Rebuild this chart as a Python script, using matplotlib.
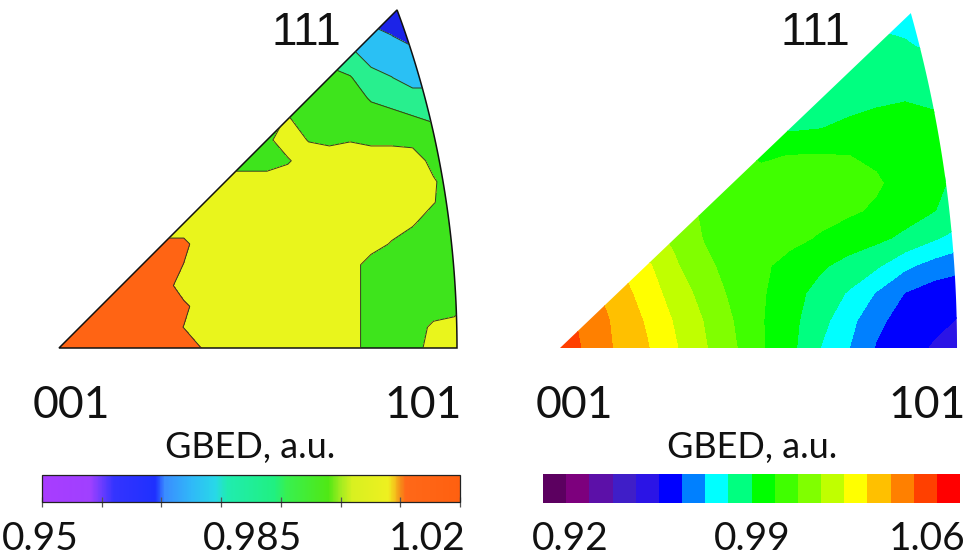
import numpy as np
import matplotlib
matplotlib.use("Agg")
import matplotlib.pyplot as plt
from matplotlib.colors import ListedColormap, BoundaryNorm, LinearSegmentedColormap, Normalize
from matplotlib.path import Path
from matplotlib.patches import PathPatch
from matplotlib.cm import ScalarMappable

W, H = 969, 557

# ---------------- data ----------------
# Left panel: GBED sampled on a regular grid of the equal-area projected
# standard triangle (rows bottom -> top).
left_x = np.linspace(0.0, 0.80, 21)
left_y = np.linspace(0.0, 0.68, 18)
left_gbed = [
    [1.015, 1.015, 1.015, 1.015, 1.015, 1.015, 1.015, 1.009, 1.005, 1.005, 1.005, 1.005, 1.005, 1.005, 1.005, 0.995, 0.995, 0.995, 1.005, 1.005, 1.005],
    [1.015, 1.015, 1.015, 1.015, 1.015, 1.015, 1.0098, 1.005, 1.005, 1.005, 1.005, 1.005, 1.005, 1.005, 1.005, 0.995, 0.995, 0.995, 1.002, 1.005, 1.005],
    [1.015, 1.015, 1.015, 1.015, 1.015, 1.015, 1.012, 1.005, 1.005, 1.005, 1.005, 1.005, 1.005, 1.005, 1.005, 0.995, 0.995, 0.995, 0.995, 0.995, 1.003],
    [1.015, 1.015, 1.015, 1.015, 1.015, 1.015, 1.005, 1.005, 1.005, 1.005, 1.005, 1.005, 1.005, 1.005, 1.005, 0.995, 0.995, 0.995, 0.995, 0.995, 0.995],
    [1.015, 1.015, 1.015, 1.015, 1.015, 1.015, 1.0098, 1.005, 1.005, 1.005, 1.005, 1.005, 1.005, 1.005, 1.005, 0.995, 0.995, 0.995, 0.995, 0.995, 0.995],
    [1.012, 1.012, 1.012, 1.012, 1.012, 1.012, 1.012, 1.005, 1.005, 1.005, 1.005, 1.005, 1.005, 1.005, 1.005, 1.005, 0.999, 0.995, 0.995, 0.995, 0.995],
    [1.005, 1.005, 1.005, 1.005, 1.005, 1.005, 1.005, 1.005, 1.005, 1.005, 1.005, 1.005, 1.005, 1.005, 1.005, 1.005, 1.005, 1.001, 0.995, 0.995, 0.995],
    [1.005, 1.005, 1.005, 1.005, 1.005, 1.005, 1.005, 1.005, 1.005, 1.005, 1.005, 1.005, 1.005, 1.005, 1.005, 1.005, 1.005, 1.005, 1.0005, 0.995, 0.995],
    [1.005, 1.005, 1.005, 1.005, 1.005, 1.005, 1.005, 1.005, 1.005, 1.005, 1.005, 1.005, 1.005, 1.005, 1.005, 1.005, 1.005, 1.005, 1.001, 0.995, 0.995],
    [1.005, 1.005, 1.005, 1.005, 1.005, 1.005, 1.005, 1.005, 0.995, 0.995, 0.995, 0.999, 1.005, 1.005, 1.005, 1.005, 1.005, 1.005, 0.997, 0.995, 0.995],
    [0.995, 0.995, 0.995, 0.995, 0.995, 0.995, 0.995, 0.995, 0.995, 0.995, 0.998, 1.005, 0.9995, 0.998, 0.9995, 0.998, 0.998, 0.997, 0.995, 0.995, 0.995],
    [0.995, 0.995, 0.995, 0.995, 0.995, 0.995, 0.995, 0.995, 0.995, 0.995, 0.995, 1.001, 0.995, 0.995, 0.995, 0.995, 0.995, 0.991, 0.989, 0.985, 0.985],
    [0.995, 0.995, 0.995, 0.995, 0.995, 0.995, 0.995, 0.995, 0.995, 0.995, 0.995, 0.995, 0.995, 0.995, 0.995, 0.989, 0.985, 0.985, 0.985, 0.985, 0.985],
    [0.995, 0.995, 0.995, 0.995, 0.995, 0.995, 0.995, 0.995, 0.995, 0.995, 0.995, 0.995, 0.995, 0.995, 0.9905, 0.985, 0.9802, 0.975, 0.975, 0.975, 0.975],
    [0.985, 0.985, 0.985, 0.985, 0.985, 0.985, 0.985, 0.985, 0.985, 0.985, 0.985, 0.985, 0.985, 0.985, 0.985, 0.975, 0.975, 0.975, 0.975, 0.975, 0.975],
    [0.975, 0.975, 0.975, 0.975, 0.975, 0.975, 0.975, 0.975, 0.975, 0.975, 0.975, 0.975, 0.975, 0.975, 0.975, 0.975, 0.9702, 0.965, 0.965, 0.965, 0.965],
    [0.965, 0.965, 0.965, 0.965, 0.965, 0.965, 0.965, 0.965, 0.965, 0.965, 0.965, 0.965, 0.965, 0.965, 0.965, 0.965, 0.965, 0.965, 0.965, 0.965, 0.965],
    [0.965, 0.965, 0.965, 0.965, 0.965, 0.965, 0.965, 0.965, 0.965, 0.965, 0.965, 0.965, 0.965, 0.965, 0.965, 0.965, 0.965, 0.965, 0.965, 0.965, 0.965],
]
left_levels = [0.95, 0.96, 0.97, 0.98, 0.99, 1.00, 1.01, 1.02]
left_cbar_ticks = [0.95, 0.96, 0.97, 0.98, 0.99, 1.00, 1.01, 1.02]
left_cbar_labels = ["0.95", "0.985", "1.02"]

# Right panel: GBED on a regular grid of the stereographic projected triangle.
right_x = np.linspace(0.0, 0.42, 15)
right_y = np.linspace(0.0, 0.39, 14)
right_gbed = [
    [1.0491, 1.0427, 1.0354, 1.0297, 1.0219, 1.0143, 1.0069, 0.9986, 0.9922, 0.9826, 0.9750, 0.9661, 0.9620, 0.9580, 0.9542],
    [1.0468, 1.0425, 1.0344, 1.0281, 1.0203, 1.0131, 1.0057, 0.9983, 0.9924, 0.9851, 0.9775, 0.9682, 0.9639, 0.9608, 0.9581],
    [1.0444, 1.0390, 1.0329, 1.0252, 1.0177, 1.0106, 1.0039, 0.9987, 0.9931, 0.9875, 0.9817, 0.9739, 0.9664, 0.9628, 0.9604],
    [1.0406, 1.0351, 1.0293, 1.0227, 1.0143, 1.0074, 1.0028, 0.9991, 0.9953, 0.9915, 0.9874, 0.9835, 0.9762, 0.9713, 0.9690],
    [1.0343, 1.0285, 1.0234, 1.0172, 1.0116, 1.0052, 1.0032, 1.0017, 0.9997, 0.9972, 0.9944, 0.9918, 0.9883, 0.9832, 0.9783],
    [1.0320, 1.0266, 1.0207, 1.0149, 1.0094, 1.0044, 1.0024, 1.0017, 1.0009, 1.0001, 0.9989, 0.9968, 0.9934, 0.9902, 0.9869],
    [1.0285, 1.0246, 1.0203, 1.0149, 1.0102, 1.0054, 1.0007, 1.0009, 1.0013, 1.0009, 1.0001, 0.9986, 0.9952, 0.9912, 0.9884],
    [1.0246, 1.0207, 1.0164, 1.0118, 1.0071, 1.0032, 0.9993, 0.9966, 0.9980, 0.9982, 0.9979, 0.9966, 0.9939, 0.9909, 0.9884],
    [1.0196, 1.0157, 1.0118, 1.0079, 1.0040, 1.0001, 0.9962, 0.9923, 0.9888, 0.9898, 0.9912, 0.9923, 0.9927, 0.9908, 0.9877],
    [0.9884, 0.9884, 0.9884, 0.9884, 0.9884, 0.9884, 0.9884, 0.9884, 0.9877, 0.9869, 0.9881, 0.9892, 0.9899, 0.9896, 0.9869],
    [0.9869, 0.9869, 0.9869, 0.9869, 0.9869, 0.9869, 0.9869, 0.9869, 0.9869, 0.9861, 0.9853, 0.9861, 0.9865, 0.9857, 0.9846],
    [0.9853, 0.9853, 0.9853, 0.9853, 0.9853, 0.9853, 0.9853, 0.9853, 0.9853, 0.9853, 0.9846, 0.9834, 0.9830, 0.9807, 0.9791],
    [0.9830, 0.9830, 0.9830, 0.9830, 0.9830, 0.9830, 0.9830, 0.9830, 0.9830, 0.9830, 0.9830, 0.9814, 0.9799, 0.9776, 0.9768],
    [0.9814, 0.9814, 0.9814, 0.9814, 0.9814, 0.9814, 0.9814, 0.9814, 0.9814, 0.9814, 0.9814, 0.9814, 0.9783, 0.9768, 0.9760],
]
right_levels = np.linspace(0.92, 1.06, 19)
right_cbar_labels = ["0.92", "0.99", "1.06"]

pole_labels = ["001", "101", "111"]
cbar_title = "GBED, a.u."

# ---------------- styles ----------------
left_fill_colors = ["#a63cff", "#1c24e8", "#2ac0f4", "#28ef8e", "#3ee41c", "#e9f51c", "#ff6414"]
left_cbar_anchors = [
    (0.950, "#a83cff"), (0.958, "#a040ff"), (0.960, "#6a3cff"), (0.962, "#3434ff"),
    (0.969, "#1e30ff"), (0.9705, "#3a8cff"), (0.975, "#30b8f8"), (0.979, "#28d8e8"),
    (0.981, "#20ecb0"), (0.989, "#20f080"), (0.991, "#38f050"), (0.998, "#50e814"),
    (1.000, "#a0ec20"), (1.002, "#d8f020"), (1.008, "#eef020"), (1.009, "#f4c81c"),
    (1.010, "#f49018"), (1.011, "#ff6818"), (1.020, "#ff6010"),
]
right_colors = ["#5c0060", "#7d007d", "#5c10a8", "#3f1ec8", "#2b14e6", "#0000ff",
                "#0080ff", "#00ffff", "#00ff80", "#00ff00", "#40ff00", "#80ff00",
                "#c0ff00", "#ffff00", "#ffc000", "#ff8000", "#ff4000", "#ff0000"]

LABEL_FONT = ["Lato", "DejaVu Sans"]
POLE_FONT = ["Liberation Sans", "DejaVu Sans"]


def rect(x0, ytop, w, h):
    return [x0 / W, 1 - (ytop + h) / H, w / W, h / H]


def triangle_path(kind):
    t = np.linspace(0, 1, 120)
    n = np.sqrt(2 + t ** 2)
    vx, vy, vz = 1 / n, t / n, 1 / n
    f = np.sqrt(2 / (1 + vz)) if kind == "area" else 1 / (1 + vz)
    arc = np.column_stack([vx * f, vy * f])
    verts = np.vstack([[0, 0], arc, [0, 0]])
    codes = [Path.MOVETO] + [Path.LINETO] * len(arc) + [Path.CLOSEPOLY]
    return Path(verts, codes)


fig = plt.figure(figsize=(W / 100, H / 100), dpi=100)
fig.patch.set_facecolor("white")

# ---- left triangle ----
ax1 = fig.add_axes(rect(59 - 0.01 * 520, 348 - 0.66 * 520, 0.79 * 520, 0.67 * 520))
ax1.set_xlim(-0.01, 0.78)
ax1.set_ylim(-0.01, 0.66)
ax1.set_axis_off()
LX, LY = np.meshgrid(left_x, left_y)
LZ = np.array(left_gbed)
p1 = triangle_path("area")
clip1 = PathPatch(p1, transform=ax1.transData, facecolor="none", edgecolor="none")
ax1.add_patch(clip1)
cs1 = ax1.contourf(LX, LY, LZ, levels=left_levels, colors=left_fill_colors)
cs1.set_clip_path(clip1)
cl1 = ax1.contour(LX, LY, LZ, levels=left_levels[1:-1], colors="#2f3d22", linewidths=0.7)
cl1.set_clip_path(clip1)
ax1.add_patch(PathPatch(p1, transform=ax1.transData, facecolor="none",
                        edgecolor="#111111", linewidth=1.1, clip_on=False))

# ---- right triangle ----
sx, sy = 958.5, 915.0
ax2 = fig.add_axes(rect(560 - 0.01 * sx, 348 - 0.375 * sy, 0.43 * sx, 0.385 * sy))
ax2.set_xlim(-0.01, 0.42)
ax2.set_ylim(-0.01, 0.375)
ax2.set_axis_off()
RX, RY = np.meshgrid(right_x, right_y)
RZ = np.array(right_gbed)
p2 = triangle_path("stereo")
clip2 = PathPatch(p2, transform=ax2.transData, facecolor="none", edgecolor="none")
ax2.add_patch(clip2)
cs2 = ax2.contourf(RX, RY, RZ, levels=right_levels, colors=right_colors)
cs2.set_clip_path(clip2)

# ---- colorbars ----
vals = [a[0] for a in left_cbar_anchors]
pos = [min(1.0, max(0.0, round((v - 0.95) / 0.07, 6))) for v in vals]
pos[0], pos[-1] = 0.0, 1.0
left_cmap = LinearSegmentedColormap.from_list(
    "gbed_left", list(zip(pos, [a[1] for a in left_cbar_anchors])), N=512)
cax1 = fig.add_axes(rect(42, 475, 418, 27))
cb1 = fig.colorbar(ScalarMappable(norm=Normalize(0.95, 1.02), cmap=left_cmap),
                   cax=cax1, orientation="horizontal")
cb1.outline.set_linewidth(0.9)
cb1.outline.set_edgecolor("#222222")
cax1.xaxis.set_ticks_position("bottom")
cax1.set_xticks(left_cbar_ticks)
cax1.set_xticklabels([])
cax1.tick_params(axis="x", direction="inout", length=7, width=0.9, color="#555555")
cax1.minorticks_off()

cax2 = fig.add_axes(rect(543, 474, 417, 29))
cb2 = fig.colorbar(ScalarMappable(norm=BoundaryNorm(right_levels, 18),
                                  cmap=ListedColormap(right_colors)),
                   cax=cax2, orientation="horizontal")
cb2.outline.set_visible(False)
cax2.set_xticks([])
cax2.minorticks_off()


def ftext(x, y, s, size, family, ha="center"):
    fig.text(x / W, 1 - y / H, s, fontsize=size, family=family, ha=ha,
             va="baseline", color="#111111")


# pole labels
ftext(306, 45, pole_labels[2], 33, POLE_FONT)
ftext(815, 45, pole_labels[2], 33, POLE_FONT)
ftext(71, 418, pole_labels[0], 32, LABEL_FONT)
ftext(423, 418, pole_labels[1], 32, LABEL_FONT)
ftext(574, 418, pole_labels[0], 32, LABEL_FONT)
ftext(927, 418, pole_labels[1], 32, LABEL_FONT)

# colorbar titles
ftext(250, 458, cbar_title, 26, LABEL_FONT)
ftext(752, 458, cbar_title, 26, LABEL_FONT)

# colorbar labels
for x, s in zip([40, 252, 427], left_cbar_labels):
    ftext(x, 550, s, 28, LABEL_FONT)
for x, s in zip([570, 752, 927], right_cbar_labels):
    ftext(x, 550, s, 28, LABEL_FONT)

fig.savefig("out.png", dpi=100, facecolor="white")
